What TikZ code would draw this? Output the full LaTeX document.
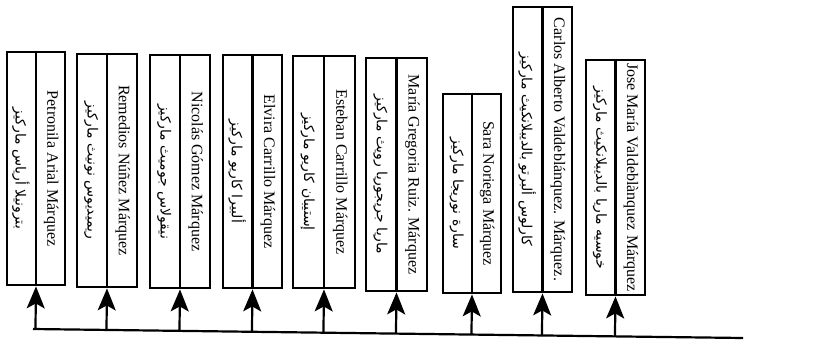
\documentclass[tikz,border=0pt]{standalone}
\usepackage{fontspec}
\setmainfont{Liberation Serif}
\newfontfamily\arabicfont[Script=Arabic]{DejaVu Sans}
\TeXXeTstate=1
\usetikzlibrary{arrows.meta,calc}
\begin{document}
\begin{tikzpicture}[x=1pt,y=-1pt,
  box/.style={draw, line width=2.8pt, rectangle, inner sep=0pt, minimum width=#1},
  divline/.style={line width=2.2pt},
  busline/.style={line width=2.2pt},
  feed/.style={line width=2.2pt, -{Stealth[length=22pt,width=18pt,inset=5pt]}},
  es/.style={font=\fontsize{16}{18}\selectfont, rotate=-90, inner sep=0pt},
  ar/.style={font=\arabicfont\fontsize{14}{16}\selectfont, rotate=-90, inner sep=0pt}]
\useasboundingbox (0,0) rectangle (829,340);

\node[box=58pt, minimum height=233pt] (b1) at (36,168.5) {};
\node[box=60pt, minimum height=233pt] (b2) at (107,170.5) {};
\node[box=60pt, minimum height=233pt] (b3) at (180,171.5) {};
\node[box=59pt, minimum height=233pt] (b4) at (252.5,171.5) {};
\node[box=62pt, minimum height=232pt] (b5) at (324,172) {};
\node[box=61pt, minimum height=233pt] (b6) at (396.5,174.5) {};
\node[box=58pt, minimum height=199pt] (b7) at (472,193.5) {};
\node[box=59pt, minimum height=285pt] (b8) at (542.5,149.5) {};
\node[box=59pt, minimum height=235pt] (b9) at (615.5,177.5) {};

\foreach \i in {1,...,9} {\draw[divline] (b\i.north) -- (b\i.south);}

\node[ar] (a1) at ($(b1.center)!0.5!(b1.west)$) {\beginR بترونيلا أرياس ماركيز\endR};
\node[es] (s1) at ($(b1.center)!0.5!(b1.east)$) {Petronila Arial Márquez};
\node[ar] (a2) at ($(b2.center)!0.5!(b2.west)$) {\beginR ريميديوس نونيث ماركيز\endR};
\node[es] (s2) at ($(b2.center)!0.5!(b2.east)$) {Remedios Núñez Márquez};
\node[ar] (a3) at ($(b3.center)!0.5!(b3.west)$) {\beginR نيقولاس جوميث ماركيز\endR};
\node[es] (s3) at ($(b3.center)!0.5!(b3.east)$) {Nicolás Gómez Márquez};
\node[ar] (a4) at ($(b4.center)!0.5!(b4.west)$) {\beginR ألبيرا كاريو ماركيز\endR};
\node[es] (s4) at ($(b4.center)!0.5!(b4.east)$) {Elvira Carrillo Márquez};
\node[ar] (a5) at ($(b5.center)!0.5!(b5.west)$) {\beginR إستيبان كاريو ماركيز\endR};
\node[es] (s5) at ($(b5.center)!0.5!(b5.east)$) {Esteban Carrillo Márquez};
\node[ar] (a6) at ($(b6.center)!0.5!(b6.west)$) {\beginR ماريا جريجوريا رويث ماركيز\endR};
\node[es] (s6) at ($(b6.center)!0.5!(b6.east)$) {María Gregoria Ruiz. Márquez};
\node[ar] (a7) at ($(b7.center)!0.5!(b7.west)$) {\beginR سارة نوريجا ماركيز\endR};
\node[es] (s7) at ($(b7.center)!0.5!(b7.east)$) {Sara Noriega Márquez};
\node[ar] (a8) at ($(b8.center)!0.5!(b8.west)$) {\beginR كارلوس ألبرتو بالديبلانكيث ماركيز\endR};
\node[es] (s8) at ($(b8.center)!0.5!(b8.east)$) {Carlos Alberto Valdeblánquez. Márquez.};
\node[ar] (a9) at ($(b9.center)!0.5!(b9.west)$) {\beginR خوسيه ماريا بالديبلانكيث ماركيز\endR};
\node[es] (s9) at ($(b9.center)!0.5!(b9.east)$) {Jose María Valdeblànquez Márquez};

\coordinate (p1) at (33,329);
\coordinate (pend) at (743,338);
\draw[busline] (p1) -- (pend);
\foreach \i in {1,...,9} {
  \draw[feed] ($(p1)!(b\i.south)!(pend)$) -- (b\i.south);
}
\end{tikzpicture}
\end{document}
